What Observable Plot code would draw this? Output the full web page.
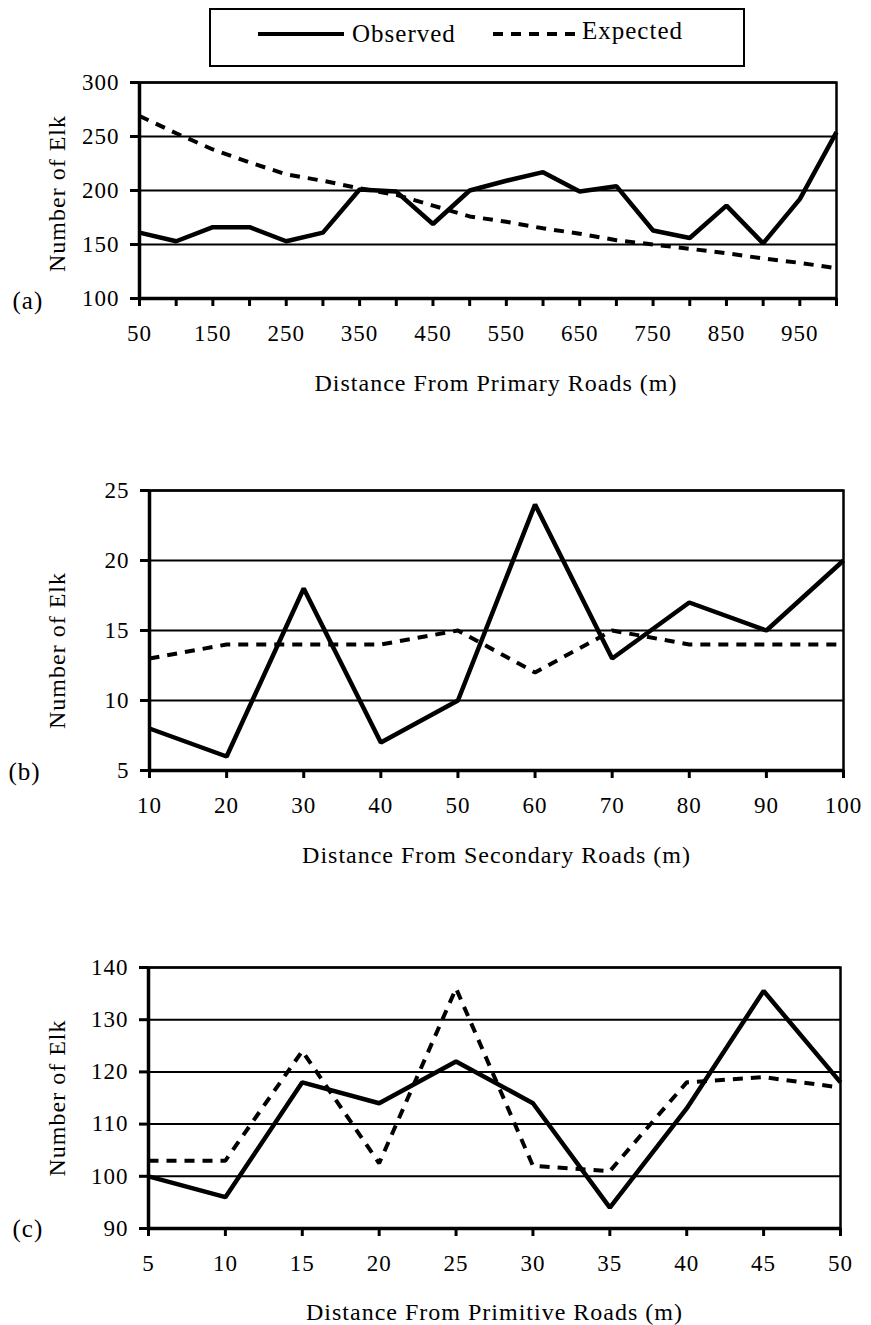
<!DOCTYPE html>
<html><head><meta charset="utf-8">
<script src="https://cdn.jsdelivr.net/npm/d3@7"></script>
<script src="https://cdn.jsdelivr.net/npm/@observablehq/plot@0.6"></script>
<style>
body{margin:0;background:#fff;}
#wrap{width:871px;}
#legend{margin:8px 0 3px 209px;width:536px;height:59px;box-sizing:border-box;border:2px solid #000;}
#legend svg{display:block}
.panel svg{display:block}
</style></head><body>
<div id="wrap"><div id="legend"></div><div id="pa" class="panel"></div><div id="pb" class="panel"></div><div id="pc" class="panel"></div></div>
<script>
// Panel (a): primary roads
const xA = [50,100,150,200,250,300,350,400,450,500,550,600,650,700,750,800,850,900,950,1000];
const obsA = [161,153,166,166,153,161,201,199,169,200,209,217,199,204,163,156,186,151,192,254];
const expA = [269,253,238,226,215,209,202,196,186,176,171,165,160,154,150,146,142,137,133,128];
const yTicksA = [100,150,200,250,300];
const xLabelsA = [50,150,250,350,450,550,650,750,850,950];

// Panel (b): secondary roads
const xB = [10,20,30,40,50,60,70,80,90,100];
const obsB = [8,6,18,7,10,24,13,17,15,20];
const expB = [13,14,14,14,15,12,15,14,14,14];
const yTicksB = [5,10,15,20,25];
const xLabelsB = [10,20,30,40,50,60,70,80,90,100];

// Panel (c): primitive roads
const xC = [5,10,15,20,25,30,35,40,45,50];
const obsC = [100,96,118,114,122,114,94,113,135.5,118];
const expC = [103,103,124,102.5,136,102,101,118,119,117];
const yTicksC = [90,100,110,120,130,140];
const xLabelsC = [5,10,15,20,25,30,35,40,45,50];

const seriesNames = ["Observed","Expected"];
const yTitle = "Number of Elk";
const xTitles = ["Distance From Primary Roads (m)","Distance From Secondary Roads (m)","Distance From Primitive Roads (m)"];
const tags = ["(a)","(b)","(c)"];

const FONT = "'Liberation Serif', 'Times New Roman', serif";

// Legend
(function(){
  const svg = d3.create("svg").attr("width",532).attr("height",55)
    .style("font-family",FONT).style("font-size","25px").style("letter-spacing","1px");
  svg.append("line").attr("x1",47).attr("x2",133).attr("y1",24).attr("y2",24)
    .attr("stroke","#000").attr("stroke-width",4);
  svg.append("text").attr("x",141).attr("y",32).text(seriesNames[0]);
  svg.append("line").attr("x1",282).attr("x2",366).attr("y1",24).attr("y2",24)
    .attr("stroke","#000").attr("stroke-width",4).attr("stroke-dasharray","10,8");
  svg.append("text").attr("x",371).attr("y",29).text(seriesNames[1]);
  document.getElementById("legend").append(svg.node());
})();

function panel(o){
  const rows = o.xs.map((x,i)=>({x, obs:o.obs[i], exp:o.exp[i]}));
  return Plot.plot({
    width: 871,
    height: o.height,
    marginLeft: o.ml, marginRight: o.mr, marginTop: o.mt, marginBottom: o.mb,
    style: {fontFamily: FONT, fontSize: "23px", letterSpacing: "1px", background: "#fff", color: "#000", overflow: "visible"},
    x: {domain: [o.xs[0], o.xs[o.xs.length-1]], label: null},
    y: {domain: [o.yTicks[0], o.yTicks[o.yTicks.length-1]], label: null},
    marks: [
      Plot.ruleY(o.yTicks, {stroke: "#000", strokeWidth: 2}),
      Plot.frame({stroke: "#000", strokeWidth: 2.5}),
      Plot.axisY(o.yTicks, {tickSize: 9, tickPadding: 11, strokeWidth: 3, fontSize: 23, label: null}),
      Plot.axisX(o.xs, {tickSize: 8, tickPadding: 18, strokeWidth: 3, fontSize: 23, label: null,
        tickFormat: d => o.xLabels.includes(d) ? String(d) : ""}),
      Plot.ruleX([o.xs[0]], {stroke: "#000", strokeWidth: 3.5}),
      Plot.ruleY([o.yTicks[0]], {stroke: "#000", strokeWidth: 3.5}),
      Plot.line(rows, {x: "x", y: "exp", stroke: "#000", strokeWidth: 4, strokeDasharray: "10,8", strokeLinecap: "butt", strokeLinejoin: "miter"}),
      Plot.line(rows, {x: "x", y: "obs", stroke: "#000", strokeWidth: 4.5, strokeLinejoin: "miter", strokeLinecap: "butt"}),
      Plot.text([o.tag], {frameAnchor: "bottom-left", textAnchor: "start", lineAnchor: "middle", dx: o.tagDx, dy: o.tagDy, fontSize: 25}),
      Plot.text([yTitle], {frameAnchor: "left", textAnchor: "middle", lineAnchor: "middle", rotate: -90, dx: 57 - o.ml, dy: o.yTitleDy, fontSize: 24}),
      Plot.text([o.xTitle], {frameAnchor: "bottom", textAnchor: "middle", lineAnchor: "middle", dx: o.xTitleDx, dy: o.xTitleDy, fontSize: 24})
    ]
  });
}

document.getElementById("pa").append(panel({
  xs: xA, obs: obsA, exp: expA, yTicks: yTicksA, xLabels: xLabelsA,
  height: 350, ml: 139, mr: 35, mt: 12, mb: 122,
  tag: tags[0], tagDx: -127, tagDy: 2, yTitleDy: 3, xTitle: xTitles[0], xTitleDx: 8, xTitleDy: 85
}));
document.getElementById("pb").append(panel({
  xs: xB, obs: obsB, exp: expB, yTicks: yTicksB, xLabels: xLabelsB,
  height: 460, ml: 149, mr: 28, mt: 70, mb: 110,
  tag: tags[1], tagDx: -141, tagDy: 1, yTitleDy: 20, xTitle: xTitles[1], xTitleDx: 0, xTitleDy: 85
}));
document.getElementById("pc").append(panel({
  xs: xC, obs: obsC, exp: expC, yTicks: yTicksC, xLabels: xLabelsC,
  height: 445, ml: 148, mr: 31, mt: 87, mb: 97,
  tag: tags[2], tagDx: -136, tagDy: 0, yTitleDy: 0, xTitle: xTitles[2], xTitleDx: 0, xTitleDy: 84
}));
</script>
</body></html>
